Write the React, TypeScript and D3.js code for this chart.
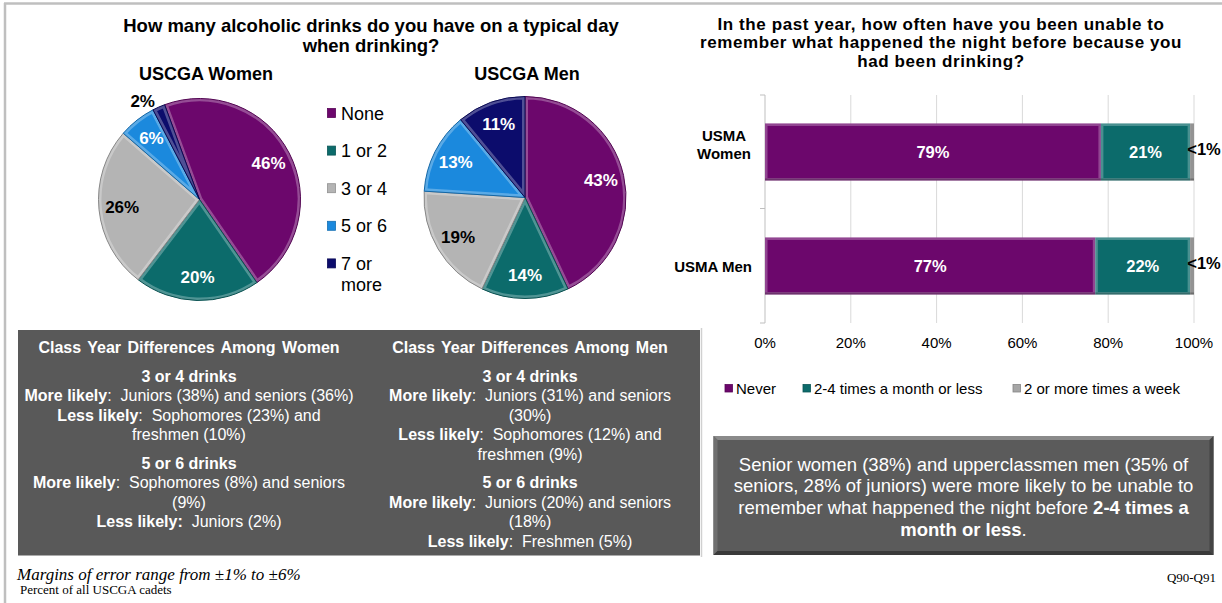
import React from 'react'
import * as d3 from 'd3'

const W = 1222
const H = 603
const SANS = "'Liberation Sans', Arial, sans-serif"
const SERIF = "'Liberation Serif', 'Times New Roman', serif"

// pies: drinks on a typical day
const DRINK_CATEGORIES = ['None', '1 or 2', '3 or 4', '5 or 6', '7 or more']
const WOMEN_DRINKS = [46, 20, 26, 6, 2]
const MEN_DRINKS = [43, 14, 19, 13, 11]
const DRINK_COLORS = ['#6c076c', '#0c6b6b', '#b4b4b4', '#1b89dd', '#0c0c6c']
const DRINK_LABEL_DARK = [false, false, true, false, false]

// bars: blackouts in the past year
const BAR_GROUPS = [['USMA', 'Women'], ['USMA Men']]
const BAR_SERIES = ['Never', '2-4 times a month or less', '2 or more times a week']
const NEVER_PCT = [78.3, 77.0]
const MONTHLY_PCT = [20.8, 22.1]
const WEEKLY_PCT = [0.9, 0.9]
const NEVER_LABELS = ['79%', '77%']
const MONTHLY_LABELS = ['21%', '22%']
const WEEKLY_LABELS = ['<1%', '<1%']
const X_TICKS = [0, 20, 40, 60, 80, 100]
const BAR_COLORS = ['#6c076c', '#0c6b6b', '#6f6f6f']
const LEGEND_SWATCH = ['#6c076c', '#0c6b6b', '#a6a6a6']

type Run = [string, boolean]
type Line = Run[] | null // null = section break

const WOMEN_NOTES: Line[] = [
  [['3 or 4 drinks', true]],
  [['More likely', true], [':  Juniors (38%) and seniors (36%)', false]],
  [['Less likely', true], [':  Sophomores (23%) and', false]],
  [['freshmen (10%)', false]],
  null,
  [['5 or 6 drinks', true]],
  [['More likely', true], [':  Sophomores (8%) and seniors', false]],
  [['(9%)', false]],
  [['Less likely:', true], ['  Juniors (2%)', false]],
]

const MEN_NOTES: Line[] = [
  [['3 or 4 drinks', true]],
  [['More likely', true], [':  Juniors (31%) and seniors', false]],
  [['(30%)', false]],
  [['Less likely', true], [':  Sophomores (12%) and', false]],
  [['freshmen (9%)', false]],
  null,
  [['5 or 6 drinks', true]],
  [['More likely', true], [':  Juniors (20%) and seniors', false]],
  [['(18%)', false]],
  [['Less likely', true], [':  Freshmen (5%)', false]],
]

const SUMMARY: Run[][] = [
  [['Senior women (38%) and upperclassmen men (35% of', false]],
  [['seniors, 28% of juniors) were more likely to be unable to', false]],
  [['remember what happened the night before ', false], ['2-4 times a', true]],
  [['month or less', true], ['.', false]],
]

function Runs({ runs }: { runs: Run[] }) {
  return (
    <>
      {runs.map(([t, b], i) => (
        <tspan key={i} fontWeight={b ? 'bold' : 'normal'}>{t}</tspan>
      ))}
    </>
  )
}

function Pie({ id, values, cx, cy, r, startDeg }: { id: string; values: number[]; cx: number; cy: number; r: number; startDeg: number }) {
  const a0 = (startDeg * Math.PI) / 180
  const arcs = d3.pie<number>().sort(null).startAngle(a0).endAngle(a0 + 2 * Math.PI)(values)
  const arc = d3.arc<d3.PieArcDatum<number>>().innerRadius(0).outerRadius(r)
  return (
    <g transform={`translate(${cx},${cy})`}>
      <defs>
        {arcs.map((a, i) => (
          <clipPath key={i} id={`${id}-clip-${i}`}>
            <path d={arc(a) || ''} />
          </clipPath>
        ))}
      </defs>
      {arcs.map((a, i) => (
        <g key={i}>
          <path d={arc(a) || ''} fill={DRINK_COLORS[i]} />
          <path d={arc(a) || ''} fill="none" stroke="#ffffff" strokeOpacity={0.28} strokeWidth={6} clipPath={`url(#${id}-clip-${i})`} />
          <path d={arc(a) || ''} fill="none" stroke={d3.color(DRINK_COLORS[i])!.darker(0.8).toString()} strokeWidth={1} />
        </g>
      ))}
      {arcs.map((a, i) => {
        const mid = (a.startAngle + a.endAngle) / 2
        const small = a.data < 5
        const rr = small ? r * 1.1 : r * 0.77
        const x = Math.sin(mid) * rr - (small ? 12 : 0)
        const y = -Math.cos(mid) * rr + (small ? 4 : 0)
        return (
          <text key={i} x={x} y={y} textAnchor="middle" dominantBaseline="central"
            fontFamily={SANS} fontWeight="bold" fontSize={17}
            fill={small || DRINK_LABEL_DARK[i] ? '#000' : '#fff'}>
            {`${a.data}%`}
          </text>
        )
      })}
    </g>
  )
}

function NotesColumn({ cx, heading, lines }: { cx: number; heading: string; lines: Line[] }) {
  let y = 381.5
  const out: React.ReactNode[] = []
  lines.forEach((ln, i) => {
    if (ln === null) {
      y += 8.6
      return
    }
    out.push(
      <text key={i} x={cx} y={y} textAnchor="middle" fill="#fff" fontFamily={SANS} fontSize={16} style={{ whiteSpace: 'pre' }}>
        <Runs runs={ln} />
      </text>
    )
    y += 19.6
  })
  return (
    <g>
      <text x={cx} y={352.5} textAnchor="middle" fill="#fff" fontFamily={SANS} fontSize={16} fontWeight="bold" wordSpacing={2}>
        {heading}
      </text>
      {out}
    </g>
  )
}

export default function App() {
  // bar chart scales
  const x = d3.scaleLinear().domain([0, 100]).range([765, 1194])
  const y = d3.scaleBand<number>().domain(BAR_GROUPS.map((_, i) => i)).range([95, 323]).paddingInner(0.5).paddingOuter(0.25)
  const stacks = BAR_GROUPS.map((_, i) => {
    const vals = [NEVER_PCT[i], MONTHLY_PCT[i], WEEKLY_PCT[i]]
    const labels = [NEVER_LABELS[i], MONTHLY_LABELS[i], WEEKLY_LABELS[i]]
    let acc = 0
    return vals.map((v, k) => {
      const seg = { x0: acc, x1: acc + v, label: labels[k], k }
      acc += v
      return seg
    })
  })
  const legendX = [725, 803, 1013]
  const legendY = 113
  const legendStep = 37.6

  return (
    <svg width={W} height={H} style={{ position: 'absolute', left: 0, top: 0, background: '#fff' }}>
      {/* frame */}
      <line x1={4} x2={W} y1={3.5} y2={3.5} stroke="#bfbfbf" strokeWidth={2.5} />
      <line x1={5} x2={5} y1={3} y2={H} stroke="#bfbfbf" strokeWidth={2.5} />
      <line x1={701.5} x2={701.5} y1={328} y2={557} stroke="#d0d0d0" strokeWidth={1.5} />

      {/* left title */}
      <g fontFamily={SANS} fontWeight="bold" fontSize={18.5} textAnchor="middle" fill="#000">
        <text x={371} y={31.5}>How many alcoholic drinks do you have on a typical day</text>
        <text x={371} y={51.5}>when drinking?</text>
      </g>
      <g fontFamily={SANS} fontWeight="bold" fontSize={18} textAnchor="middle" fill="#000">
        <text x={206} y={79.5}>USCGA Women</text>
        <text x={527} y={79.5}>USCGA Men</text>
      </g>

      <Pie id="women" values={WOMEN_DRINKS} cx={199.5} cy={199.5} r={101} startDeg={-20.2} />
      <Pie id="men" values={MEN_DRINKS} cx={525} cy={197.5} r={101} startDeg={0} />

      {/* pie legend */}
      <g fontFamily={SANS} fontSize={18} fill="#000">
        {DRINK_CATEGORIES.map((c, i) => {
          const cy = legendY + i * legendStep
          const words = c.split(' ')
          const lines = c.length > 6 ? [words.slice(0, 2).join(' '), words.slice(2).join(' ')] : [c]
          return (
            <g key={c}>
              <rect x={327.5} y={cy - 4.5} width={8} height={9} fill={DRINK_COLORS[i]} stroke={d3.color(DRINK_COLORS[i])!.darker(0.6).toString()} strokeWidth={0.8} />
              {lines.map((l, j) => (
                <text key={j} x={341} y={cy + 6.5 + j * 21.5}>{l}</text>
              ))}
            </g>
          )
        })}
      </g>

      {/* right title */}
      <g fontFamily={SANS} fontWeight="bold" fontSize={17} letterSpacing={0.6} textAnchor="middle" fill="#000">
        <text x={941} y={29.5}>In the past year, how often have you been unable to</text>
        <text x={941} y={48}>remember what happened the night before because you</text>
        <text x={941} y={66.5}>had been drinking?</text>
      </g>

      {/* bar chart grid and axis */}
      {X_TICKS.map(t => (
        <g key={t}>
          {t > 0 && <line x1={x(t)} x2={x(t)} y1={95} y2={323} stroke="#d9d9d9" strokeWidth={1} />}
          <text x={x(t)} y={347.5} textAnchor="middle" fontFamily={SANS} fontSize={15} fill="#000">{`${t}%`}</text>
        </g>
      ))}
      <line x1={765} x2={765} y1={95} y2={323} stroke="#bfbfbf" strokeWidth={1} />
      {[95, 208.5, 323].map(v => (
        <line key={v} x1={760} x2={765} y1={v} y2={v} stroke="#bfbfbf" strokeWidth={1} />
      ))}

      <defs>
        {stacks.map((segs, i) =>
          segs.map(s => (
            <clipPath key={`${i}-${s.k}`} id={`bar-clip-${i}-${s.k}`}>
              <rect x={x(s.x0)} y={y(i)!} width={x(s.x1) - x(s.x0)} height={y.bandwidth()} />
            </clipPath>
          ))
        )}
      </defs>

      {stacks.map((segs, i) => (
        <g key={i}>
          {segs.map(s => {
            const x0 = x(s.x0)
            const w = x(s.x1) - x(s.x0)
            const by = y(i)!
            const bh = y.bandwidth()
            return (
              <g key={s.k}>
                <rect x={x0} y={by} width={w} height={bh} fill={BAR_COLORS[s.k]} />
                <rect x={x0} y={by} width={w} height={bh} fill="none" stroke="#ffffff" strokeOpacity={0.25} strokeWidth={5} clipPath={`url(#bar-clip-${i}-${s.k})`} />
                <rect x={x0} y={by + bh - 2} width={w} height={2} fill="#000" fillOpacity={0.25} />
                {s.k < 2 ? (
                  <text x={x0 + w / 2} y={by + bh / 2} textAnchor="middle" dominantBaseline="central" fontFamily={SANS} fontWeight="bold" fontSize={16.5} fill="#fff">{s.label}</text>
                ) : (
                  <text x={x(100) + 10} y={by + bh / 2 - 3} textAnchor="middle" dominantBaseline="central" fontFamily={SANS} fontWeight="bold" fontSize={16.5} fill="#000">{s.label}</text>
                )}
              </g>
            )
          })}
        </g>
      ))}

      {/* category labels */}
      <g fontFamily={SANS} fontWeight="bold" fontSize={15} fill="#000">
        {BAR_GROUPS.map((lines, i) => {
          const cy = y(i)! + y.bandwidth() / 2
          return lines.length > 1 ? (
            lines.map((l, j) => (
              <text key={j} x={724} y={cy - 2.5 + (j - (lines.length - 1) / 2) * 18} textAnchor="middle">{l}</text>
            ))
          ) : (
            <text key={i} x={752} y={cy + 5.5} textAnchor="end">{lines[0]}</text>
          )
        })}
      </g>

      {/* bar legend */}
      <g fontFamily={SANS} fontSize={15} fill="#000">
        {BAR_SERIES.map((s, i) => (
          <g key={s}>
            <rect x={legendX[i]} y={384.5} width={7.5} height={7.5} fill={LEGEND_SWATCH[i]} stroke={d3.color(LEGEND_SWATCH[i])!.darker(0.6).toString()} strokeWidth={0.8} />
            <text x={legendX[i] + 11} y={393.5}>{s}</text>
          </g>
        ))}
      </g>

      {/* class year box */}
      <rect x={18} y={330} width={682} height={225.5} fill="#595959" />
      <NotesColumn cx={189} heading="Class Year Differences Among Women" lines={WOMEN_NOTES} />
      <NotesColumn cx={530} heading="Class Year Differences Among Men" lines={MEN_NOTES} />

      {/* summary box */}
      <rect x={713.5} y={436} width={500} height={119} fill="#5b5b5b" />
      <polygon points="713.5,436 1213.5,436 1209.5,440 717.5,440" fill="#8a8a8a" />
      <polygon points="713.5,436 717.5,440 717.5,551 713.5,555" fill="#707070" />
      <polygon points="1213.5,436 1213.5,555 1209.5,551 1209.5,440" fill="#444" />
      <polygon points="713.5,555 717.5,551 1209.5,551 1213.5,555" fill="#3a3a3a" />
      <g fontFamily={SANS} fontSize={18.5} fill="#fff" textAnchor="middle">
        {SUMMARY.map((ln, i) => (
          <text key={i} x={963.5} y={470.5 + i * 21.8}>
            <Runs runs={ln} />
          </text>
        ))}
      </g>

      {/* footnotes */}
      <text x={17} y={580} fontFamily={SERIF} fontStyle="italic" fontSize={17} fill="#000">Margins of error range from ±1% to ±6%</text>
      <text x={20} y={594} fontFamily={SERIF} fontSize={13} fill="#000">Percent of all  USCGA cadets</text>
      <text x={1216} y={582} fontFamily={SERIF} fontSize={13} textAnchor="end" fill="#000">Q90-Q91</text>
    </svg>
  )
}
